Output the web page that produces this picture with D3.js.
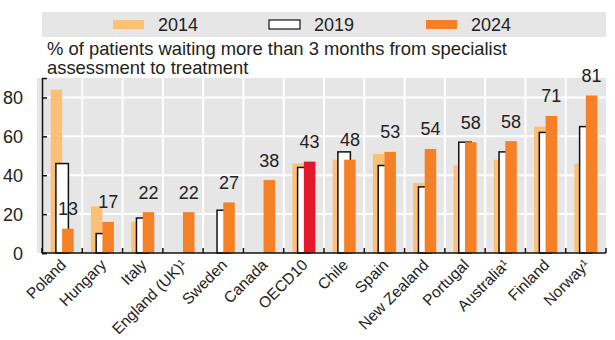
<!DOCTYPE html>
<html>
<head>
<meta charset="utf-8">
<script src="https://cdn.jsdelivr.net/npm/d3@7"></script>
<style>
  body { margin: 0; background: #fff; }
  text { font-family: "Liberation Sans", Arial, sans-serif; fill: #222; }
</style>
</head>
<body>
<svg id="chart" width="615" height="340"></svg>
<script>
// values
var categories = ["Poland", "Hungary", "Italy", "England (UK)¹", "Sweden", "Canada", "OECD10",
  "Chile", "Spain", "New Zealand", "Portugal", "Australia¹", "Finland", "Norway¹"];
var v2014 = [84, 24, 16, null, null, null, 46, 48, 51, 36, 45, 48, 65, 46];
var v2019 = [46, 10, 18, null, 22, null, 44, 52, 45, 34, 57, 52, 62, 65];
var v2024 = [12.5, 16, 21, 21, 26, 37.5, 47, 48, 52, 53.5, 57, 57.5, 70.5, 81];
var labels2024 = ["13", "17", "22", "22", "27", "38", "43", "48", "53", "54", "58", "58", "71", "81"];
var yTicks = [0, 20, 40, 60, 80];
var legendItems = ["2014", "2019", "2024"];

var svg = d3.select("#chart");
var pLeft = 42, pRight = 606, pTop = 78, pBottom = 253;

var x = d3.scaleBand().domain(categories).range([pLeft, pRight]);
var y = d3.scaleLinear().domain([0, 90]).range([pBottom, pTop]);
var bw = 11.5;

var light = "#FDC077", orange = "#F58025", red = "#E2192C", grey = "#E6E6E6";

// legend band
svg.append("rect").attr("x", 42).attr("y", 12).attr("width", pRight - 42).attr("height", 25).attr("fill", grey);
var lx = [113, 269, 426];
legendItems.forEach(function(d, i) {
  var r = svg.append("rect").attr("x", lx[i]).attr("y", 20).attr("width", 31).attr("height", 9);
  if (i == 0) r.attr("fill", light);
  else if (i == 1) r.attr("fill", "#fff").attr("stroke", "#111").attr("stroke-width", 1.2);
  else r.attr("fill", orange);
  svg.append("text").attr("x", lx[i] + 45).attr("y", 31).attr("font-size", 18).text(d);
});

// title
svg.append("text").attr("x", 47).attr("y", 55).attr("font-size", 18.4)
  .text("% of patients waiting more than 3 months from specialist");
svg.append("text").attr("x", 47).attr("y", 74).attr("font-size", 18.4)
  .text("assessment to treatment");

// plot background + grid
svg.append("rect").attr("x", 37).attr("y", pTop).attr("width", pRight - 37).attr("height", pBottom - pTop).attr("fill", grey);
svg.append("g").selectAll("line").data(yTicks.slice(1)).enter().append("line")
  .attr("x1", pLeft).attr("x2", pRight)
  .attr("y1", function(d) { return y(d); }).attr("y2", function(d) { return y(d); })
  .attr("stroke", "#fff").attr("stroke-width", 2);
svg.append("g").selectAll("line").data(categories.slice(1)).enter().append("line")
  .attr("x1", function(d) { return x(d); }).attr("x2", function(d) { return x(d); })
  .attr("y1", pTop).attr("y2", pBottom)
  .attr("stroke", "#fff").attr("stroke-width", 2);

// bars
function c(i) { return x(categories[i]) + x.bandwidth() / 2; }
var g14 = svg.append("g"), g19 = svg.append("g"), g24 = svg.append("g");
v2014.forEach(function(d, i) {
  if (d == null) return;
  g14.append("rect").attr("x", c(i) - bw).attr("y", y(d)).attr("width", bw).attr("height", y(0) - y(d)).attr("fill", light);
});
v2019.forEach(function(d, i) {
  if (d == null) return;
  g19.append("rect").attr("x", c(i) - bw / 2 - 0.5).attr("y", y(d)).attr("width", bw + 1).attr("height", y(0) - y(d))
    .attr("fill", "#fff").attr("stroke", "#111").attr("stroke-width", 1.5);
});
v2024.forEach(function(d, i) {
  g24.append("rect").attr("x", c(i)).attr("y", y(d)).attr("width", bw).attr("height", y(0) - y(d))
    .attr("fill", categories[i] == "OECD10" ? red : orange);
  svg.append("text").attr("x", c(i) + bw / 2).attr("y", y(d) - 13.5).attr("text-anchor", "middle")
    .attr("font-size", 18).text(labels2024[i]);
});

// axes
var yAxis = svg.append("g").attr("transform", "translate(" + pLeft + ",0)")
  .call(d3.axisRight(y).tickValues(yTicks).tickSize(5).tickFormat(""));
yAxis.select(".domain").attr("stroke", "#111").attr("stroke-width", 1.5);
yAxis.selectAll(".tick line").attr("stroke", "#111").attr("stroke-width", 1.5);
svg.append("g").selectAll("text").data(yTicks).enter().append("text")
  .attr("x", 23).attr("y", function(d) { return y(d) + 6.5; }).attr("text-anchor", "end")
  .attr("font-size", 18).text(function(d) { return d; });

var xb = svg.append("g").attr("transform", "translate(0," + pBottom + ")");
xb.append("line").attr("x1", pLeft).attr("x2", pRight).attr("stroke", "#111").attr("stroke-width", 1.5);
xb.selectAll(".tk").data(categories.concat(["end"])).enter().append("line")
  .attr("x1", function(d, i) { return pLeft + i * x.bandwidth(); })
  .attr("x2", function(d, i) { return pLeft + i * x.bandwidth(); })
  .attr("y1", 0).attr("y2", -5).attr("stroke", "#111").attr("stroke-width", 1.5);

svg.append("g").selectAll("text").data(categories).enter().append("text")
  .attr("transform", function(d, i) { return "translate(" + (c(i) + 1) + ",262) rotate(-45)"; })
  .attr("text-anchor", "end").attr("dy", "0.35em").attr("font-size", 15.5)
  .text(function(d) { return d; });
</script>
</body>
</html>
